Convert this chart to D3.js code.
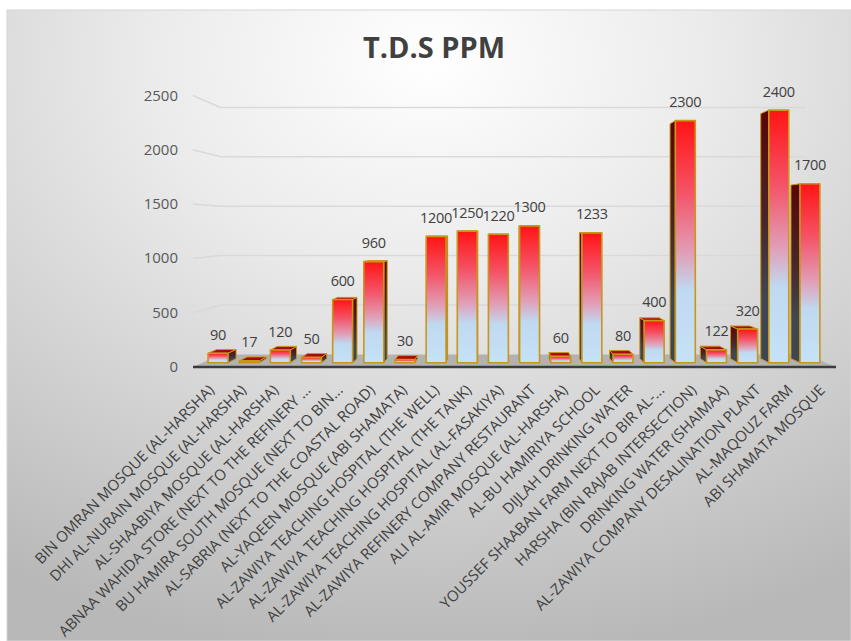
<!DOCTYPE html>
<html>
<head>
<meta charset="utf-8">
<script src="https://cdn.jsdelivr.net/npm/d3@7"></script>
<style>
  html, body { margin: 0; padding: 0; background: #ffffff; }
  svg { display: block; }
</style>
</head>
<body>
<svg id="chart" width="851" height="641"></svg>
<script>
const titleText = "T.D.S PPM";
const categories = [
  "BIN OMRAN MOSQUE (AL-HARSHA)",
  "DHI AL-NURAIN MOSQUE (AL-HARSHA)",
  "AL-SHAABIYA MOSQUE (AL-HARSHA)",
  "ABNAA WAHIDA STORE (NEXT TO THE REFINERY ...",
  "BU HAMIRA SOUTH MOSQUE (NEXT TO BIN...",
  "AL-SABRIA (NEXT TO THE COASTAL ROAD)",
  "AL-YAQEEN MOSQUE (ABI SHAMATA)",
  "AL-ZAWIYA TEACHING HOSPITAL (THE WELL)",
  "AL-ZAWIYA TEACHING HOSPITAL (THE TANK)",
  "AL-ZAWIYA TEACHING HOSPITAL (AL-FASAKIYA)",
  "AL-ZAWIYA REFINERY COMPANY RESTAURANT",
  "ALI AL-AMIR MOSQUE (AL-HARSHA)",
  "AL-BU HAMIRIYA SCHOOL",
  "DIJLAH DRINKING WATER",
  "YOUSSEF SHAABAN FARM NEXT TO BIR AL-...",
  "HARSHA (BIN RAJAB INTERSECTION)",
  "DRINKING WATER (SHAIMAA)",
  "AL-ZAWIYA COMPANY DESALINATION PLANT",
  "AL-MAQOUZ FARM",
  "ABI SHAMATA MOSQUE"
];
const values = [90, 17, 120, 50, 600, 960, 30, 1200, 1250, 1220, 1300, 60, 1233, 80, 400, 2300, 122, 320, 2400, 1700];
const yTicks = [0, 500, 1000, 1500, 2000, 2500];

const W = 851, H = 641;
const svg = d3.select("#chart");
const defs = svg.append("defs");

// background gradient
const bg = defs.append("radialGradient").attr("id", "bgGrad")
  .attr("cx", "50%").attr("cy", "8%").attr("r", "95%").attr("fx", "50%").attr("fy", "8%");
bg.append("stop").attr("offset", "0%").attr("stop-color", "#ffffff");
bg.append("stop").attr("offset", "35%").attr("stop-color", "#ebebeb");
bg.append("stop").attr("offset", "100%").attr("stop-color", "#b8b8b8");

const fg = defs.append("linearGradient").attr("id", "frontGrad")
  .attr("x1", 0).attr("y1", 0).attr("x2", 0).attr("y2", 1);
[["0%", "#ff1414"], ["30%", "#f45468"], ["55%", "#e0a0b8"], ["70%", "#bfd9f1"], ["100%", "#c6e2f6"]]
  .forEach(([o, c]) => fg.append("stop").attr("offset", o).attr("stop-color", c));

const sg = defs.append("linearGradient").attr("id", "sideGrad")
  .attr("x1", 0).attr("y1", 0).attr("x2", 0).attr("y2", 1);
[["0%", "#5a0505"], ["45%", "#47262c"], ["75%", "#3f4852"], ["100%", "#3c4650"]]
  .forEach(([o, c]) => sg.append("stop").attr("offset", o).attr("stop-color", c));

const tg = defs.append("linearGradient").attr("id", "topGrad")
  .attr("x1", 0).attr("y1", 0).attr("x2", 1).attr("y2", 1);
[["0%", "#c01010"], ["100%", "#8a0606"]]
  .forEach(([o, c]) => tg.append("stop").attr("offset", o).attr("stop-color", c));

// frame
svg.append("rect").attr("x", 7).attr("y", 10).attr("width", W - 7).attr("height", H - 10)
  .attr("fill", "url(#bgGrad)").attr("stroke", "#d6d6d6").attr("stroke-width", 1);

// scales (front floor plane)
const x = d3.scaleBand().domain(categories).range([193, 836]).paddingInner(0.36).paddingOuter(0.18);
const y = d3.scaleLinear().domain([0, 2500]).range([367, 95.5]);

// perspective
const VX = 498, VY = 227.5;
const sFront = 0.969, sBack = 0.94, sWall = 0.91;
const P = (px, py, s) => [VX + s * (px - VX), VY + s * (py - VY)];
const poly = pts => "M" + pts.map(p => p[0].toFixed(2) + "," + p[1].toFixed(2)).join("L") + "Z";

const [xL, xR] = x.range();

// gridlines
svg.append("g").selectAll("path").data(yTicks.filter(t => t > 0)).join("path")
  .attr("d", t => {
    const a = P(xL, y(t), 1), b = P(xL, y(t), sWall), c = P(xR, y(t), sWall);
    return `M${a[0]},${a[1]}L${b[0]},${b[1]}L${c[0]},${c[1]}`;
  })
  .attr("fill", "none").attr("stroke", "#d9d9d9").attr("stroke-width", 1.5);

// floor
svg.append("path")
  .attr("d", poly([P(xL, y(0), 1), P(xR, y(0), 1), P(xR, y(0), sWall), P(xL, y(0), sWall)]))
  .attr("fill", "#b2b2b2");
svg.append("line")
  .attr("x1", xL).attr("y1", y(0)).attr("x2", xR).attr("y2", y(0))
  .attr("stroke", "#3c3c3c").attr("stroke-width", 2.5);

// bars
const data = categories.map((c, i) => ({ c, v: values[i] }));
const bw = x.bandwidth();
const gBars = svg.append("g");
data.forEach(d => {
  const x0 = x(d.c), x1 = x0 + bw, y0 = y(0), yv = y(d.v);
  const cx = x0 + bw / 2;
  const sideX = cx < VX ? x1 : x0;
  const g = gBars.append("g");
  g.append("path")
    .attr("d", poly([P(sideX, y0, sFront), P(sideX, yv, sFront), P(sideX, yv, sBack), P(sideX, y0, sBack)]))
    .attr("fill", "url(#sideGrad)").attr("stroke", "#c9961a").attr("stroke-width", 1).attr("stroke-linejoin", "round");
  if (P(0, yv, sFront)[1] > VY) {
    g.append("path")
      .attr("d", poly([P(x0, yv, sFront), P(x1, yv, sFront), P(x1, yv, sBack), P(x0, yv, sBack)]))
      .attr("fill", "url(#topGrad)").attr("stroke", "#c9961a").attr("stroke-width", 1).attr("stroke-linejoin", "round");
  }
  g.append("path")
    .attr("d", poly([P(x0, y0, sFront), P(x1, y0, sFront), P(x1, yv, sFront), P(x0, yv, sFront)]))
    .attr("fill", "url(#frontGrad)").attr("stroke", "#c9961a").attr("stroke-width", 1.6).attr("stroke-linejoin", "round");
});

// data labels
svg.append("g").selectAll("text").data(data).join("text")
  .attr("x", d => P(x(d.c) + bw / 2, y(d.v), sFront)[0])
  .attr("y", d => P(x(d.c) + bw / 2, y(d.v), sFront)[1] - 13.5)
  .attr("text-anchor", "middle")
  .attr("font-family", "'Open Sans', 'Liberation Sans', sans-serif")
  .attr("font-size", 14.5).attr("letter-spacing", -0.3).attr("fill", "#404040")
  .text(d => d.v);

// y axis labels
svg.append("g").selectAll("text").data(yTicks).join("text")
  .attr("x", 178).attr("y", t => y(t) + 5)
  .attr("text-anchor", "end")
  .attr("font-family", "'Open Sans', 'Liberation Sans', sans-serif")
  .attr("font-size", 15).attr("fill", "#595959")
  .text(t => t);

// x axis labels
svg.append("g").selectAll("text").data(categories).join("text")
  .attr("transform", c => `translate(${x(c) + bw / 2 + 6},${391}) rotate(-45)`)
  .attr("text-anchor", "end")
  .attr("font-family", "'Open Sans', 'Liberation Sans', sans-serif")
  .attr("font-size", 15).attr("fill", "#404040")
  .text(c => c);

// title
svg.append("text")
  .attr("x", 434).attr("y", 58).attr("text-anchor", "middle")
  .attr("font-family", "'Open Sans', 'Liberation Sans', sans-serif")
  .attr("font-weight", "bold").attr("font-size", 29).attr("fill", "#404040")
  .text(titleText);
</script>
</body>
</html>
